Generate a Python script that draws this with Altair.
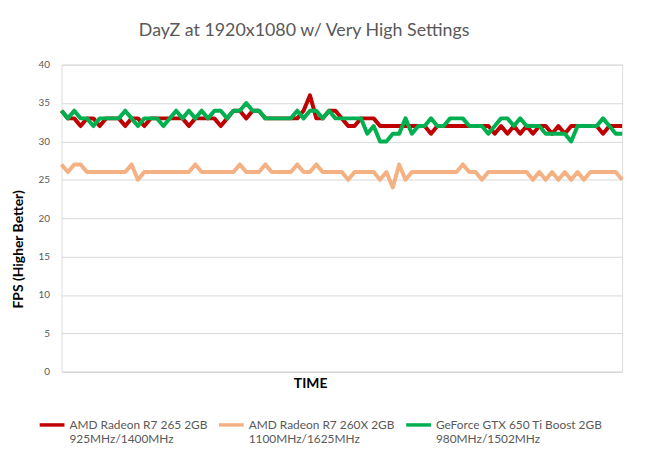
import altair as alt
import pandas as pd

series_names = [
    "AMD Radeon R7 265 2GB|925MHz/1400MHz",
    "AMD Radeon R7 260X 2GB|1100MHz/1625MHz",
    "GeForce GTX 650 Ti Boost 2GB|980MHz/1502MHz",
]
series_colors = ["#C00000", "#F4B183", "#00B050"]

r7_265 = [34, 33, 33, 32, 33, 33, 32, 33, 33, 33, 32, 33, 33, 32, 33, 33, 33, 33, 33, 33,
          32, 33, 33, 33, 33, 32, 33, 34, 34, 33, 34, 34, 33, 33, 33, 33, 33, 33, 34, 36,
          33, 33, 34, 34, 33, 32, 32, 33, 33, 33, 32, 32, 32, 32, 32, 32, 32, 32, 31, 32,
          32, 32, 32, 32, 32, 32, 32, 32, 31, 32, 31, 32, 31, 32, 31, 32, 32, 31, 32, 31,
          32, 32, 32, 32, 32, 31, 32, 32, 32]

r7_260x = [27, 26, 27, 27, 26, 26, 26, 26, 26, 26, 26, 27, 25, 26, 26, 26, 26, 26, 26, 26,
           26, 27, 26, 26, 26, 26, 26, 26, 27, 26, 26, 26, 27, 26, 26, 26, 26, 27, 26, 26,
           27, 26, 26, 26, 26, 25, 26, 26, 26, 26, 25, 26, 24, 27, 25, 26, 26, 26, 26, 26,
           26, 26, 26, 27, 26, 26, 25, 26, 26, 26, 26, 26, 26, 26, 25, 26, 25, 26, 25, 26,
           25, 26, 25, 26, 26, 26, 26, 26, 25]

gtx650 = [34, 33, 34, 33, 33, 32, 33, 33, 33, 33, 34, 33, 32, 33, 33, 33, 32, 33, 34, 33,
          34, 33, 34, 33, 34, 34, 33, 34, 34, 35, 34, 34, 33, 33, 33, 33, 33, 34, 33, 34,
          34, 33, 34, 33, 33, 33, 33, 33, 31, 32, 30, 30, 31, 31, 33, 31, 32, 32, 33, 32,
          32, 33, 33, 33, 32, 32, 32, 31, 32, 33, 33, 32, 33, 32, 32, 32, 31, 31, 31, 31,
          30, 32, 32, 32, 32, 33, 32, 31, 31]

y_ticks = [0, 5, 10, 15, 20, 25, 30, 35, 40]

rows = []
for name, vals in zip(series_names, [r7_265, r7_260x, gtx650]):
    for i, v in enumerate(vals):
        rows.append({"t": i, "fps": v, "card": name})
df = pd.DataFrame(rows)

FONT = "Lato"

chart = (
    alt.Chart(df)
    .mark_line(strokeWidth=4, strokeJoin="round")
    .encode(
        x=alt.X(
            "t:Q",
            scale=alt.Scale(domain=[0, len(r7_265) - 1], nice=False, zero=False),
            axis=alt.Axis(
                title="TIME",
                labels=False,
                ticks=False,
                grid=False,
                domainColor="#d9d9d9",
                domainWidth=1,
                titleFont=FONT,
                titleFontSize=14,
                titleFontWeight="bold",
                titleColor="#000000",
                titleX=251,
                titleY=12,
                titleBaseline="middle",
            ),
        ),
        y=alt.Y(
            "fps:Q",
            scale=alt.Scale(domain=[0, 40], nice=False),
            axis=alt.Axis(
                title="FPS (Higher Better)",
                values=y_ticks,
                ticks=False,
                domain=False,
                gridColor="#d9d9d9",
                gridWidth=1,
                labelFont=FONT,
                labelFontSize=10,
                labelColor="#595959",
                labelPadding=12,
                titleFont=FONT,
                titleFontSize=14,
                titleFontWeight="bold",
                titleColor="#000000",
                titleAngle=270,
                titleX=-43,
                titleY=186,
                titleBaseline="middle",
                titleAlign="center",
            ),
        ),
        color=alt.Color(
            "card:N",
            scale=alt.Scale(domain=series_names, range=series_colors),
            legend=alt.Legend(
                title=None,
                orient="none",
                direction="horizontal",
                legendX=-24,
                legendY=344,
                symbolType="M-1,0.4L1,0.4",
                symbolSize=625,
                symbolStrokeWidth=3.5,
                labelExpr="split(datum.label, '|')",
                labelFont=FONT,
                labelFontSize=12,
                labelColor="#595959",
                labelOffset=3,
                labelBaseline="top",
                labelLimit=300,
                columnPadding=4,
            ),
        ),
    )
    .properties(
        width=566,
        height=310,
        title=alt.TitleParams(
            "DayZ at 1920x1080 w/ Very High Settings",
            font=FONT,
            fontSize=18,
            fontWeight="normal",
            color="#595959",
            anchor="middle",
            dx=-38,
            offset=20,
        ),
        autosize=alt.AutoSizeParams(type="none"),
        padding={"left": 54, "top": 55, "right": 15, "bottom": 90},
    )
    .configure_view(stroke=None)
    .configure(background="white")
)

chart.save("out.html", embed_options={"renderer": "svg", "actions": False})
